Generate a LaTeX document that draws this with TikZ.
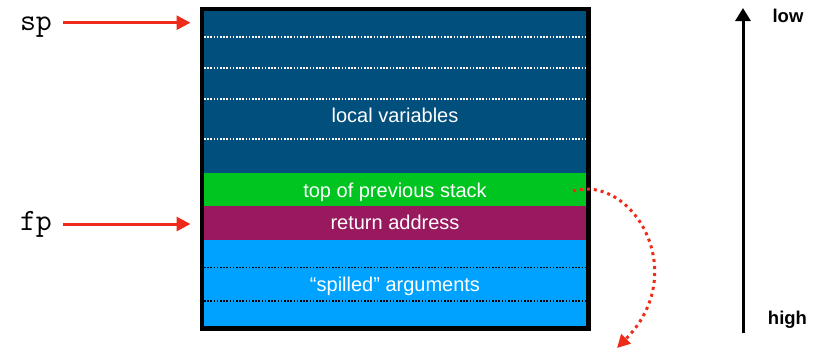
\documentclass[tikz,border=0pt]{standalone}
\usepackage{fontspec}
\setmainfont{Liberation Sans}
\usetikzlibrary{arrows.meta}

\definecolor{localblue}{HTML}{004F7D}
\definecolor{prevgreen}{HTML}{00C41F}
\definecolor{retmaroon}{HTML}{99195E}
\definecolor{spillblue}{HTML}{00A2FF}
\definecolor{ptrred}{HTML}{EE2B1A}

\begin{document}
\begin{tikzpicture}[x=1pt, y=-1pt,
  region/.style={draw=none, inner sep=0pt, outer sep=0pt, minimum width=382pt, anchor=north west},
  celltext/.style={text=white, anchor=base, inner sep=0pt, font=\fontsize{20}{22}\selectfont},
  sepwhite/.style={white, line width=1.6pt, dash pattern=on 1.6pt off 1.6pt},
  sepblack/.style={black, line width=1.6pt, dash pattern=on 1.6pt off 1.6pt},
  regname/.style={anchor=base, inner sep=0pt, font=\ttfamily\fontsize{31}{34}\selectfont},
  ptr/.style={ptrred, line width=3pt, -{Triangle[length=14pt, width=14pt]}},
  retptr/.style={ptrred, line width=3pt, dash pattern=on 3pt off 4pt, -{Triangle[length=13pt, width=13pt]}},
  dirlabel/.style={anchor=base, inner sep=0pt, font=\bfseries\fontsize{18.5}{21}\selectfont}]
  \useasboundingbox (0,0) rectangle (827,349);

  % stack frame regions, top (low addresses) to bottom
  \node[region, fill=localblue, minimum height=162pt] (locals) at (204,11) {};
  \node[region, fill=prevgreen, minimum height=32.7pt] (prev) at (204,173) {};
  \node[region, fill=retmaroon, minimum height=34pt] (ret) at (204,205.7) {};
  \node[region, fill=spillblue, minimum height=86.3pt] (spill) at (204,239.7) {};

  % slot separators
  \foreach \y in {37,67.7,98.7,138.7}
    \draw[sepwhite] (locals.west |- 0,\y) -- (locals.east |- 0,\y);
  \foreach \y in {267.3,300.7}
    \draw[sepblack] (spill.west |- 0,\y) -- (spill.east |- 0,\y);

  % outer frame
  \node[draw=black, line width=4.5pt, inner sep=0pt, minimum width=386.5pt,
        minimum height=319.5pt] (frame) at (395,168.5) {};

  % region labels
  \node[celltext] (tlocals) at (395,122) {local variables};
  \node[celltext] (tprev) at (395,197.3) {top of previous stack};
  \node[celltext] (tret) at (395,229.3) {return address};
  \node[celltext] (tspill) at (395,291.7) {“spilled” arguments};

  % register pointers
  \node[regname] (sp) at (36,30) {sp};
  \node[regname] (fp) at (36,230) {fp};
  \coordinate (spTail) at (63,22.7);
  \coordinate (fpTail) at (63,224);
  \draw[ptr, shorten >=9pt] (spTail) -- (spTail -| frame.west);
  \draw[ptr, shorten >=9pt] (fpTail) -- (fpTail -| frame.west);

  % return path to the previous frame
  \coordinate (retStart) at (573,191);
  \coordinate (retEnd) at (617,348);
  \draw[retptr] (retStart) .. controls (632,174) and (692,272) .. (retEnd);

  % address direction
  \coordinate (dirLow) at (743,8);
  \coordinate (dirHigh) at (743,333);
  \draw[black, line width=3pt, -{Triangle[length=13pt, width=15pt]}] (dirHigh) -- (dirLow);
  \node[dirlabel] (low) at (788,22.7) {low};
  \node[dirlabel] (high) at (787.5,324.3) {high};
\end{tikzpicture}
\end{document}
